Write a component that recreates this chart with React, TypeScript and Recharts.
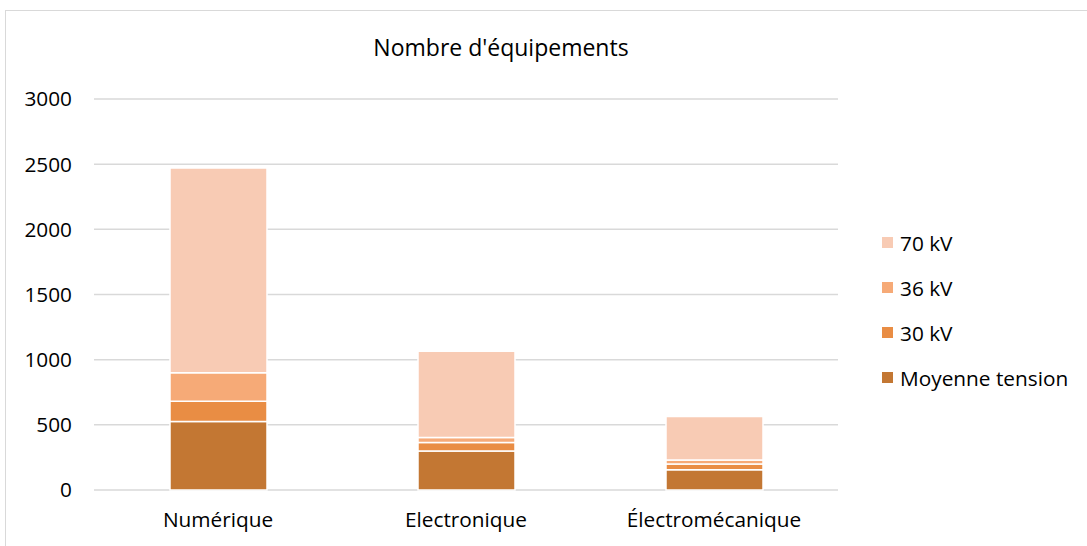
import { BarChart, Bar, XAxis, YAxis, CartesianGrid } from 'recharts';

const categories = ['Numérique', 'Electronique', 'Électromécanique'];
const moyenneTension = [525, 300, 155];
const kv30 = [155, 65, 45];
const kv36 = [220, 38, 30];
const kv70 = [1570, 662, 333];
const yTicks = [0, 500, 1000, 1500, 2000, 2500, 3000];

const SERIES = [
  { key: 'mt', name: 'Moyenne tension', color: '#C37733' },
  { key: 'kv30', name: '30 kV', color: '#E98D44' },
  { key: 'kv36', name: '36 kV', color: '#F6AA77' },
  { key: 'kv70', name: '70 kV', color: '#F8CBB4' },
];

const data = categories.map((cat, i) => ({
  cat,
  mt: moyenneTension[i],
  kv30: kv30[i],
  kv36: kv36[i],
  kv70: kv70[i],
}));

const FONT = '"Open Sans", sans-serif';
const LABEL_SIZE = 20.8;

function ChartLegend() {
  // Excel lists the stack top-down
  const items = [...SERIES].reverse();
  return (
    <div style={{ position: 'absolute', left: 882, top: 220, fontFamily: FONT, fontSize: LABEL_SIZE, color: '#000' }}>
      {items.map((s) => (
        <div key={s.key} style={{ display: 'flex', alignItems: 'center', height: 45 }}>
          <span style={{ width: 11, height: 11, background: s.color, marginRight: 7, display: 'inline-block' }} />
          <span>{s.name}</span>
        </div>
      ))}
    </div>
  );
}

export default function App() {
  return (
    <div style={{ position: 'absolute', left: 0, top: 0, width: 1087, height: 546, overflow: 'hidden', background: '#fff' }}>
      <div style={{ position: 'absolute', left: 5, top: 10, width: 1200, height: 700, border: '1px solid #D9D9D9' }} />
      <div
        style={{
          position: 'absolute',
          left: 0,
          width: 1002,
          top: 31,
          textAlign: 'center',
          fontFamily: FONT,
          fontSize: 23,
          color: '#000',
          lineHeight: '32px',
        }}
      >
        Nombre d'équipements
      </div>
      <div style={{ position: 'absolute', left: 0, top: 0 }}>
        <BarChart
          width={1087}
          height={546}
          data={data}
          margin={{ top: 99, right: 249, bottom: 26, left: 0 }}
        >
          <CartesianGrid vertical={false} stroke="#D9D9D9" strokeWidth={1.5} />
          <XAxis
            dataKey="cat"
            height={30}
            axisLine={false}
            tickLine={false}
            tickSize={0}
            tickMargin={22}
            tick={{ fill: '#000', fontSize: LABEL_SIZE, fontFamily: FONT }}
          />
          <YAxis
            width={94}
            domain={[0, 3000]}
            ticks={yTicks}
            axisLine={false}
            tickLine={false}
            tickSize={0}
            tickMargin={22}
            tick={{ fill: '#000', fontSize: LABEL_SIZE, fontFamily: FONT }}
          />
          {SERIES.map((s) => (
            <Bar
              key={s.key}
              dataKey={s.key}
              name={s.name}
              stackId="a"
              fill={s.color}
              stroke="#fff"
              strokeWidth={1.5}
              barSize={97}
              isAnimationActive={false}
            />
          ))}
        </BarChart>
      </div>
      <ChartLegend />
    </div>
  );
}
